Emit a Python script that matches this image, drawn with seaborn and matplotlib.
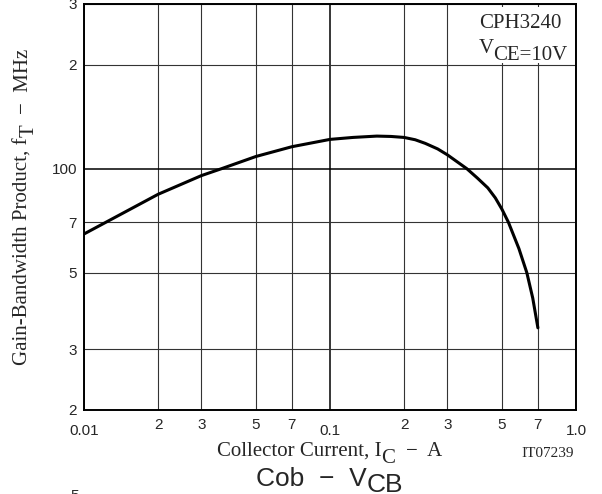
import matplotlib
matplotlib.use("Agg")
import matplotlib.pyplot as plt
import seaborn as sns
import pandas as pd
from matplotlib.ticker import FixedLocator, FixedFormatter
from matplotlib.patches import Rectangle

# ---- data ----
ic_amps = [0.01, 0.02, 0.03, 0.0362, 0.05, 0.07, 0.1, 0.124, 0.155, 0.177,
           0.2, 0.222, 0.244, 0.274, 0.3, 0.36, 0.397, 0.438, 0.47, 0.5,
           0.531, 0.586, 0.631, 0.667, 0.7]
ft_mhz = [64.7, 84.3, 95.5, 100, 108.5, 115.8, 121.6, 123.2, 124.3, 124.0,
          123.2, 121.3, 118.4, 114.1, 109.7, 100, 94.0, 88.0, 82.3, 76.3,
          70, 58.7, 50, 42.2, 34.6]

x_major = [0.01, 0.1, 1.0]
x_major_labels = ["0.01", "0.1", "1.0"]
x_minor = [0.02, 0.03, 0.05, 0.07, 0.2, 0.3, 0.5, 0.7]
x_minor_labels = ["2", "3", "5", "7", "2", "3", "5", "7"]
y_major = [100]
y_major_labels = ["100"]
y_minor = [20, 30, 50, 70, 200, 300]
y_minor_labels = ["2", "3", "5", "7", "2", "3"]

W, H = 602, 494
SERIF = ["Liberation Serif", "DejaVu Serif"]
SANS = ["Liberation Sans", "DejaVu Sans"]

sns.set_style("white")
plt.rcParams["font.family"] = SANS

fig = plt.figure(figsize=(W / 100, H / 100), dpi=100)
ax = fig.add_axes([84 / W, 1 - 410 / H, (576 - 84) / W, (410 - 4) / H])
ax.set_xscale("log")
ax.set_yscale("log")

df = pd.DataFrame({"ic": ic_amps, "ft": ft_mhz})
sns.lineplot(data=df, x="ic", y="ft", ax=ax, color="black", lw=2.2,
             zorder=5, sort=False)

ax.set_xlim(0.01, 1.0)
ax.set_ylim(20, 300)

ax.xaxis.set_major_locator(FixedLocator(x_major))
ax.xaxis.set_major_formatter(FixedFormatter(x_major_labels))
ax.xaxis.set_minor_locator(FixedLocator(x_minor))
ax.xaxis.set_minor_formatter(FixedFormatter(x_minor_labels))
ax.yaxis.set_major_locator(FixedLocator(y_major))
ax.yaxis.set_major_formatter(FixedFormatter(y_major_labels))
ax.yaxis.set_minor_locator(FixedLocator(y_minor))
ax.yaxis.set_minor_formatter(FixedFormatter(y_minor_labels))

ax.tick_params(axis="x", which="major", length=0, pad=10, labelsize=11)
ax.tick_params(axis="x", which="minor", length=0, pad=6, labelsize=11)
ax.tick_params(axis="y", which="both", length=0, pad=5, labelsize=11)

ax.set_axisbelow(True)
ax.grid(which="major", color="black", lw=1.1)
ax.grid(which="minor", color="#333333", lw=0.8)
for sp in ax.spines.values():
    sp.set_visible(True)
    sp.set_color("black")
    sp.set_linewidth(1.4)
ax.set_xlabel("")
ax.set_ylabel("")

# white box behind the annotation
ax.add_patch(Rectangle(((470 - 84) / 492, (410 - 63) / 406), (575 - 470) / 492,
                       (63 - 7) / 406, transform=ax.transAxes, fc="white",
                       ec="none", zorder=1))

renderer = fig.canvas.get_renderer()


def measure(s, size, family):
    t1 = fig.text(0, 0, "|" + s + "|", fontsize=size, family=family)
    t2 = fig.text(0, 0, "||", fontsize=size, family=family)
    w = t1.get_window_extent(renderer).width - t2.get_window_extent(renderer).width
    t1.remove()
    t2.remove()
    return w


def rich(pieces, x, y, size, family, rotation=0):
    """pieces: list of (text, dy_px); x,y px (from top) of center/baseline."""
    widths = [measure(s, size, family) for s, _ in pieces]
    total = sum(widths)
    if rotation == 0:
        cur = x - total / 2
        for (s, dy), w in zip(pieces, widths):
            fig.text(cur / W, 1 - (y + dy) / H, s, fontsize=size, family=family,
                     ha="left", va="baseline")
            cur += w
    else:
        cur = y + total / 2
        for (s, dy), w in zip(pieces, widths):
            fig.text((x + dy) / W, 1 - cur / H, s, fontsize=size, family=family,
                     ha="left", va="baseline", rotation=90,
                     rotation_mode="anchor")
            cur -= w


rich([("Gain-Bandwidth Product, f", 0), ("T  ", 6), ("\u2212  MHz", 0)],
     28, 207, 15, SERIF, rotation=90)
rich([("Collector Current, I", 0), ("C  ", 7), ("\u2212  A", 0)],
     330, 456, 15, SERIF)
rich([("IT07239", 0)], 548, 457, 11, SERIF)
rich([("CPH3240", 0)], 520, 28, 15, SERIF)
rich([("V", 0), ("CE=10V", 7)], 523, 53, 15, SERIF)
rich([("Cob  \u2212  V", 0), ("CB", 6)], 330, 486, 19, SANS)
fig.text(75 / W, 1 - 489 / H, "5", fontsize=11, family=SANS, ha="center",
         va="top")

fig.savefig("out.png", dpi=100)
